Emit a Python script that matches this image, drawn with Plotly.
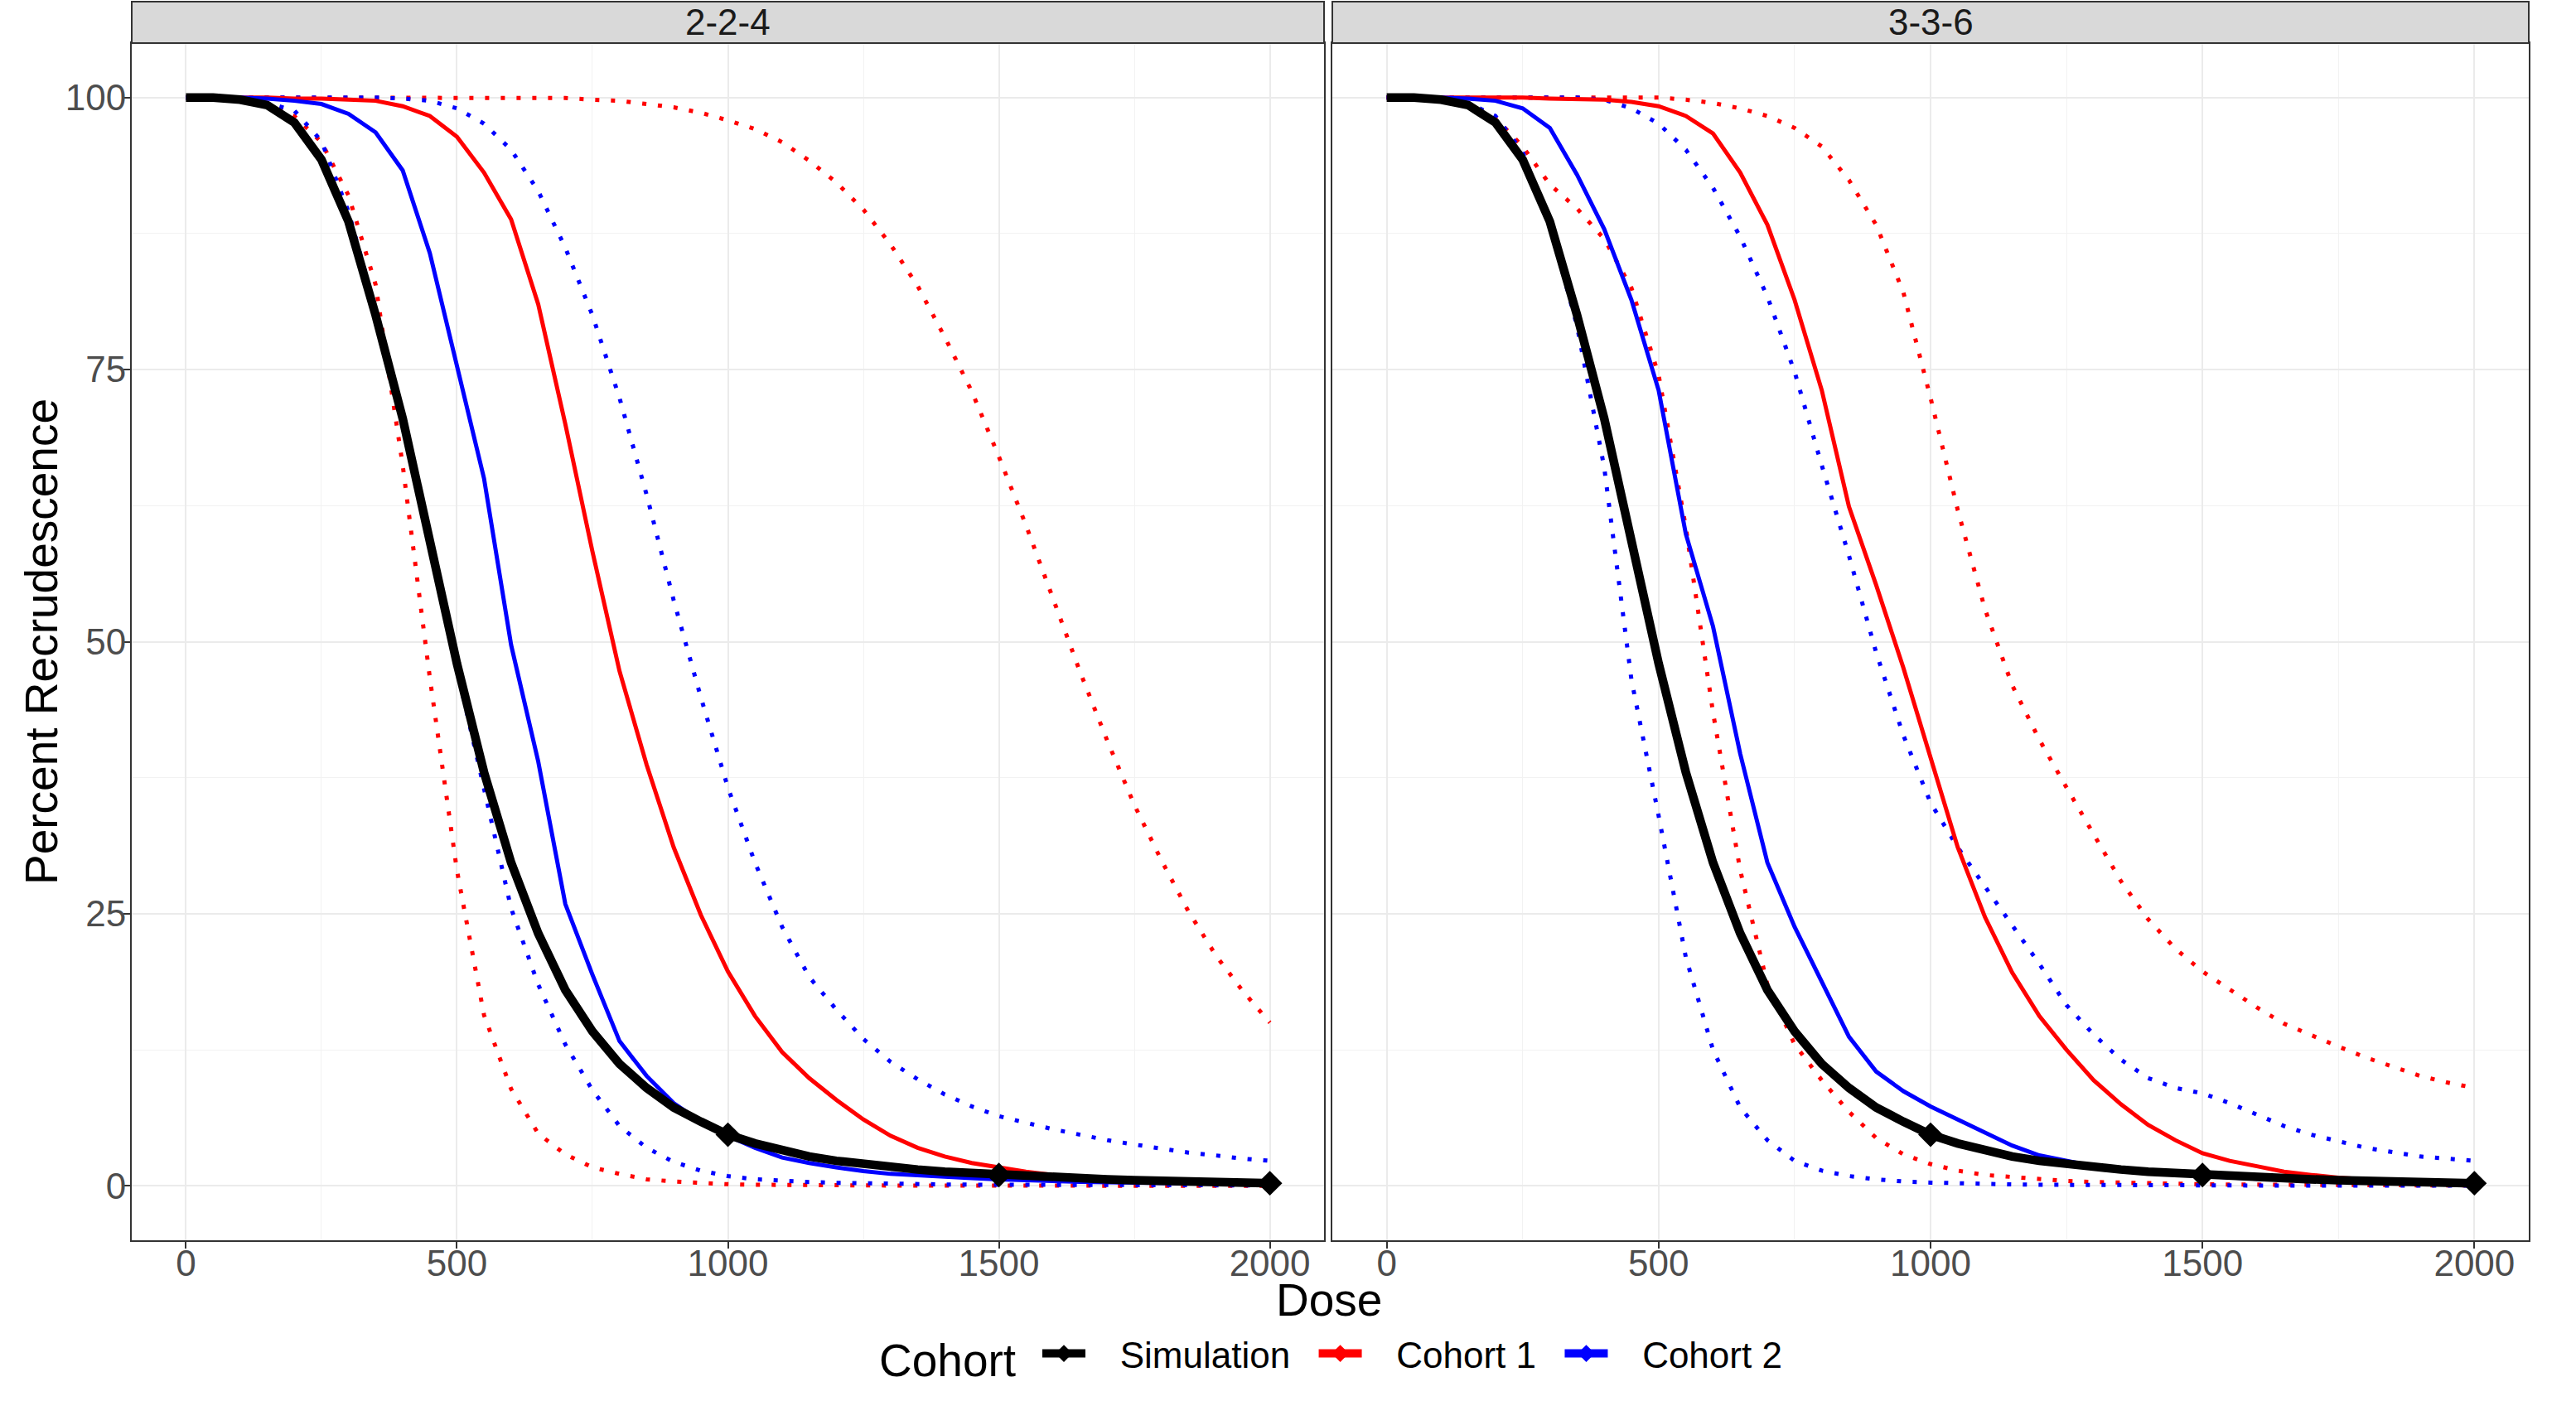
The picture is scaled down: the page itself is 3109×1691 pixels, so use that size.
import plotly.graph_objects as go

# ---------------- data ----------------
DOSE = list(range(0, 2001, 50))
PANELS = ["2-2-4", "3-3-6"]
SERIES = ["Simulation", "Cohort 1", "Cohort 2"]
MARKER_DOSES = [1000, 1500, 2000]

SIM = [100, 100, 99.8, 99.3, 97.7, 94.3, 88.6, 80.0, 70.5, 59.3,
       48.0, 38.0, 29.7, 23.2, 18.0, 14.2, 11.2, 9.0, 7.2, 5.9,
       4.7, 3.9, 3.2, 2.7, 2.3, 2.0, 1.7, 1.5, 1.3, 1.15,
       1.0, 0.88, 0.78, 0.68, 0.6, 0.52, 0.45, 0.39, 0.33, 0.28,
       0.24]

# panel "2-2-4"
P1_C1 = [100, 100, 100, 100, 99.9, 99.9, 99.8, 99.7, 99.2, 98.3,
         96.4, 93.1, 88.8, 81.0, 70.0, 58.3, 47.3, 38.7, 31.1, 24.9,
         19.7, 15.6, 12.3, 9.9, 7.9, 6.1, 4.6, 3.5, 2.7, 2.1,
         1.7, 1.3, 1.0, 0.8, 0.6, 0.45, 0.35, 0.27, 0.2, 0.15,
         0.1]
P1_C1_LO = [100, 100, 99.9, 99.5, 98.3, 95.9, 91.0, 82.8, 66.2, 46.7,
            29.0, 15.7, 8.9, 4.8, 2.9, 1.7, 1.1, 0.6, 0.4, 0.25,
            0.15, 0.1, 0.07, 0.05, 0.04, 0.03, 0.03, 0.02, 0.02, 0.02,
            0.01, 0.01, 0.01, 0.01, 0.01, 0.01, 0.01, 0.01, 0.01, 0.01,
            0.01]
P1_C1_HI = [100, 100, 100, 100, 100, 100, 100, 100, 100, 100,
            100, 100, 100, 100, 99.95, 99.8, 99.7, 99.4, 99.1, 98.6,
            97.9, 97.1, 95.9, 94.2, 92.2, 89.7, 86.5, 82.7, 78.0, 73.0,
            67.0, 60.7, 54.0, 47.2, 40.9, 35.0, 29.9, 25.2, 21.2, 17.9,
            15.0]
P1_C2 = [100, 100, 100, 99.9, 99.7, 99.4, 98.5, 96.8, 93.3, 85.7,
         75.3, 65.0, 49.7, 39.0, 25.9, 19.4, 13.3, 10.1, 7.6, 5.9,
         4.6, 3.5, 2.6, 2.1, 1.7, 1.35, 1.1, 0.95, 0.8, 0.7,
         0.6, 0.5, 0.43, 0.37, 0.32, 0.28, 0.24, 0.2, 0.17, 0.15,
         0.13]
P1_C2_LO = [100, 100, 99.9, 99.5, 98.8, 96.0, 89.5, 80.5, 70.5, 59.0,
            47.5, 36.5, 25.5, 18.5, 13.0, 8.8, 5.5, 3.5, 2.2, 1.4,
            0.9, 0.6, 0.45, 0.35, 0.28, 0.22, 0.18, 0.15, 0.13, 0.11,
            0.1, 0.09, 0.08, 0.07, 0.06, 0.06, 0.05, 0.05, 0.04, 0.04,
            0.04]
P1_C2_HI = [100, 100, 100, 100, 100, 100, 100, 100, 99.9, 99.7,
            99.0, 97.6, 95.2, 91.4, 86.2, 80.0, 72.4, 63.5, 53.8, 44.9,
            36.6, 29.7, 23.8, 19.2, 16.2, 13.5, 11.4, 9.8, 8.4, 7.3,
            6.4, 5.8, 5.2, 4.7, 4.2, 3.8, 3.4, 3.05, 2.8, 2.5,
            2.3]

# panel "3-3-6"
P2_C1 = [100, 100, 100, 100, 100, 100, 99.9, 99.85, 99.8, 99.6,
         99.2, 98.3, 96.7, 93.1, 88.3, 81.4, 73.1, 62.4, 55.2, 47.6,
         39.4, 31.1, 24.7, 19.6, 15.6, 12.5, 9.7, 7.5, 5.6, 4.2,
         3.0, 2.3, 1.8, 1.3, 1.0, 0.75, 0.6, 0.45, 0.35, 0.28,
         0.2]
P2_C1_LO = [100, 100, 99.9, 99.4, 98.1, 95.5, 92.0, 89.8, 87.0, 82.5,
            74.5, 60.5, 43.5, 29.0, 18.5, 13.0, 9.7, 6.8, 4.4, 2.9,
            2.0, 1.4, 1.0, 0.8, 0.6, 0.45, 0.35, 0.28, 0.22, 0.18,
            0.15, 0.12, 0.1, 0.09, 0.08, 0.07, 0.06, 0.05, 0.05, 0.04,
            0.04]
P2_C1_HI = [100, 100, 100, 100, 100, 100, 100, 100, 100, 100,
            100, 99.8, 99.5, 99.0, 98.3, 97.2, 95.5, 92.4, 88.3, 82.1,
            72.4, 62.1, 53.0, 46.0, 41.0, 36.6, 32.3, 28.0, 24.5, 21.8,
            19.7, 18.0, 16.4, 14.9, 13.8, 12.8, 11.8, 10.9, 10.1, 9.5,
            9.0]
P2_C2 = [100, 100, 100, 99.9, 99.7, 99.0, 97.2, 92.9, 87.9, 81.4,
         73.1, 59.9, 51.4, 39.7, 29.7, 23.8, 18.7, 13.7, 10.5, 8.7,
         7.3, 6.1, 5.0, 3.7, 2.8, 2.3, 1.8, 1.5, 1.25, 1.05,
         0.9, 0.75, 0.65, 0.55, 0.47, 0.4, 0.34, 0.29, 0.25, 0.22,
         0.2]
P2_C2_LO = [100, 100, 99.9, 99.5, 98.3, 95.0, 88.3, 79.0, 66.0, 46.5,
            34.0, 21.0, 12.5, 7.2, 4.2, 2.3, 1.4, 0.9, 0.6, 0.4,
            0.3, 0.22, 0.17, 0.13, 0.1, 0.08, 0.07, 0.06, 0.05, 0.05,
            0.04, 0.04, 0.03, 0.03, 0.03, 0.02, 0.02, 0.02, 0.02, 0.02,
            0.02]
P2_C2_HI = [100, 100, 100, 100, 100, 100, 100, 100, 99.8, 99.0,
            97.6, 95.2, 91.7, 87.2, 81.7, 74.8, 66.2, 57.9, 49.0, 41.4,
            35.2, 31.1, 27.5, 24.0, 20.4, 16.6, 13.9, 11.6, 9.9, 9.0,
            8.5, 7.6, 6.5, 5.5, 4.7, 4.1, 3.5, 3.1, 2.7, 2.5,
            2.3]

X_TICKS = [0, 500, 1000, 1500, 2000]
Y_TICKS = [0, 25, 50, 75, 100]

# ---------------- style ----------------
FONT = "Liberation Sans, Arial, sans-serif"
COLORS = {"Simulation": "black", "Cohort 1": "#FF0000", "Cohort 2": "#0000FF"}
W, H = 3109, 1691
DOT = "5px,14px"
NB = "\u00a0"

panel_data = [
    {"c1": P1_C1, "c1lo": P1_C1_LO, "c1hi": P1_C1_HI,
     "c2": P1_C2, "c2lo": P1_C2_LO, "c2hi": P1_C2_HI},
    {"c1": P2_C1, "c1lo": P2_C1_LO, "c1hi": P2_C1_HI,
     "c2": P2_C2, "c2lo": P2_C2_LO, "c2hi": P2_C2_HI},
]

fig = go.Figure()
for i, pdata in enumerate(panel_data):
    xa = "x" if i == 0 else "x2"
    ya = "y" if i == 0 else "y2"
    for key, col in [("c1lo", COLORS["Cohort 1"]), ("c1hi", COLORS["Cohort 1"]),
                     ("c2lo", COLORS["Cohort 2"]), ("c2hi", COLORS["Cohort 2"])]:
        fig.add_trace(go.Scatter(x=DOSE, y=pdata[key], mode="lines", xaxis=xa, yaxis=ya,
                                 line=dict(color=col, width=5, dash=DOT),
                                 showlegend=False, hoverinfo="skip"))
    for key, col in [("c1", COLORS["Cohort 1"]), ("c2", COLORS["Cohort 2"])]:
        fig.add_trace(go.Scatter(x=DOSE, y=pdata[key], mode="lines", xaxis=xa, yaxis=ya,
                                 line=dict(color=col, width=5),
                                 showlegend=False, hoverinfo="skip"))
    fig.add_trace(go.Scatter(x=DOSE, y=SIM, mode="lines", xaxis=xa, yaxis=ya,
                             line=dict(color="black", width=10.5),
                             showlegend=False, hoverinfo="skip"))
    mx = [d for d in DOSE if d in MARKER_DOSES]
    my = [SIM[DOSE.index(d)] for d in mx]
    fig.add_trace(go.Scatter(x=mx, y=my, mode="markers", xaxis=xa, yaxis=ya,
                             marker=dict(symbol="diamond", size=23, color="black"),
                             showlegend=False, hoverinfo="skip"))

# legend entries
for s in SERIES:
    fig.add_trace(go.Scatter(x=[None], y=[None], mode="lines+markers",
                             name=NB * 3 + s + NB * 2,
                             line=dict(color=COLORS[s], width=10),
                             marker=dict(symbol="diamond", size=16, color=COLORS[s])))

def px_x(v):
    return v / W

def px_y(v):
    return (H - v) / H

P1 = (159, 1598)
P2 = (1608, 3052)
TOP, BOT = 52, 1497

axis_common = dict(
    range=[-100, 2100], tickvals=X_TICKS, showgrid=True, gridcolor="#EBEBEB", gridwidth=2,
    zeroline=False, showline=True, linecolor="#333333", linewidth=2, mirror=True,
    ticks="outside", ticklen=8, tickwidth=2, tickcolor="#333333",
    tickfont=dict(family=FONT, size=44, color="#4D4D4D"), ticklabelstandoff=-20,
    minor=dict(dtick=250, tick0=0, showgrid=True, gridcolor="#F2F2F2", gridwidth=1, ticks=""),
)
yaxis_common = dict(
    range=[-5, 105], tickvals=Y_TICKS, showgrid=True, gridcolor="#EBEBEB", gridwidth=2,
    zeroline=False, showline=True, linecolor="#333333", linewidth=2, mirror=True,
    ticks="outside", ticklen=8, tickwidth=2, tickcolor="#333333",
    tickfont=dict(family=FONT, size=44, color="#4D4D4D"), ticklabelstandoff=-12,
    minor=dict(dtick=12.5, tick0=0, showgrid=True, gridcolor="#F2F2F2", gridwidth=1, ticks=""),
    domain=[px_y(BOT), px_y(TOP)],
)

fig.update_layout(
    width=W, height=H, autosize=False,
    margin=dict(l=0, r=0, t=0, b=0),
    paper_bgcolor="white", plot_bgcolor="white",
    font=dict(family=FONT, color="black"),
    xaxis=dict(axis_common, domain=[px_x(P1[0]), px_x(P1[1])], anchor="y"),
    xaxis2=dict(axis_common, domain=[px_x(P2[0]), px_x(P2[1])], anchor="y2"),
    yaxis=dict(yaxis_common, anchor="x"),
    yaxis2=dict(yaxis_common, anchor="x2", showticklabels=False, ticks=""),
    legend=dict(orientation="h", x=px_x(1253), xanchor="left", y=px_y(1634), yanchor="middle",
                font=dict(family=FONT, size=44, color="black"), itemwidth=52,
                tracegroupgap=0, bgcolor="rgba(0,0,0,0)"),
    showlegend=True,
)

shapes = []
annotations = []
for (x0, x1), name in zip([P1, P2], PANELS):
    shapes.append(dict(type="rect", xref="paper", yref="paper",
                       x0=px_x(x0), x1=px_x(x1), y0=px_y(TOP), y1=px_y(2),
                       fillcolor="#D9D9D9", line=dict(color="#333333", width=2), layer="above"))
    annotations.append(dict(text=name, xref="paper", yref="paper",
                            x=px_x((x0 + x1) / 2), y=px_y(27), xanchor="center", yanchor="middle",
                            showarrow=False, font=dict(family=FONT, size=44, color="#1A1A1A")))
annotations.append(dict(text="Dose", xref="paper", yref="paper", x=px_x(1604), y=px_y(1569),
                        xanchor="center", yanchor="middle", showarrow=False,
                        font=dict(family=FONT, size=55, color="black")))
annotations.append(dict(text="Percent Recrudescence", xref="paper", yref="paper",
                        x=px_x(50), y=px_y(775), xanchor="center", yanchor="middle",
                        textangle=-90, showarrow=False,
                        font=dict(family=FONT, size=55, color="black")))
annotations.append(dict(text="Cohort", xref="paper", yref="paper", x=px_x(1143), y=px_y(1642),
                        xanchor="center", yanchor="middle", showarrow=False,
                        font=dict(family=FONT, size=55, color="black")))
fig.update_layout(shapes=shapes, annotations=annotations)

fig.write_html("out.html", config={"displayModeBar": False},
               post_script="document.body.style.margin='0';document.body.style.overflow='hidden';")
